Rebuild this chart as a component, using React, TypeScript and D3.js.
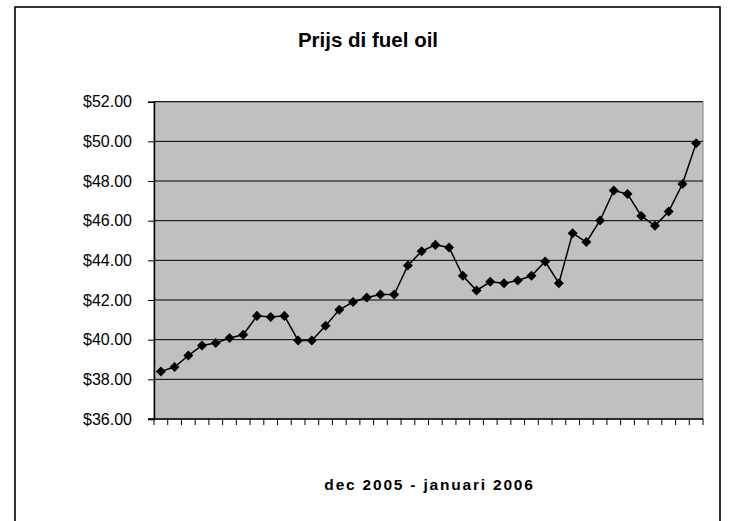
import React, { useRef, useEffect } from 'react';
import * as d3 from 'd3';

// fuel oil price per day, dec 2005 - jan 2006
const prices: number[] = [
  38.4, 38.62, 39.2, 39.71, 39.83, 40.08, 40.25, 41.2, 41.14, 41.2,
  39.96, 39.96, 40.7, 41.51, 41.9, 42.13, 42.28, 42.28, 43.74, 44.46,
  44.78, 44.65, 43.22, 42.48, 42.92, 42.85, 42.98, 43.22, 43.94, 42.85,
  45.37, 44.92, 46.01, 47.52, 47.35, 46.24, 45.74, 46.46, 47.85, 49.9
];
const yTicks: number[] = [36, 38, 40, 42, 44, 46, 48, 50, 52];
const title = 'Prijs di fuel oil';
const xTitle = 'dec 2005 - januari 2006';

const App: React.FC = () => {
  const svgRef = useRef<SVGSVGElement>(null);

  useEffect(() => {
    if (!svgRef.current) return;
    const width = 730,
      height = 521;
    const plot = { left: 154, right: 703, top: 101.7, bottom: 419 };
    const font = 'Liberation Sans, Arial, sans-serif';

    const svg = d3.select(svgRef.current);
    svg.selectAll('*').remove();
    svg.attr('width', width).attr('height', height);

    // chart border
    svg
      .append('rect')
      .attr('x', 15)
      .attr('y', 7)
      .attr('width', 705)
      .attr('height', 530)
      .attr('fill', '#fff')
      .attr('stroke', '#000')
      .attr('stroke-width', 1.6);

    const x = d3
      .scaleBand<number>()
      .domain(prices.map((_, i) => i))
      .range([plot.left, plot.right]);
    const y = d3
      .scaleLinear()
      .domain([36, 52])
      .range([plot.bottom, plot.top]);

    // plot area
    svg
      .append('rect')
      .attr('x', plot.left)
      .attr('y', plot.top)
      .attr('width', plot.right - plot.left)
      .attr('height', plot.bottom - plot.top)
      .attr('fill', '#c0c0c0')
      .attr('stroke', '#808080')
      .attr('stroke-width', 1);

    // gridlines
    svg
      .append('g')
      .selectAll('line')
      .data(yTicks.slice(1))
      .enter()
      .append('line')
      .attr('x1', plot.left)
      .attr('x2', plot.right)
      .attr('y1', (d) => y(d))
      .attr('y2', (d) => y(d))
      .attr('stroke', '#000')
      .attr('stroke-width', 1);

    // Y axis
    const yAxis = svg
      .append('g')
      .attr('transform', 'translate(' + plot.left + ',0)')
      .call(
        d3
          .axisLeft(y)
          .tickValues(yTicks)
          .tickSize(6)
          .tickPadding(16)
          .tickFormat((d) => '$' + (d as number).toFixed(2))
      );
    yAxis.select('.domain').attr('stroke', '#000').attr('stroke-width', 1.5);
    yAxis
      .selectAll('text')
      .attr('font-family', font)
      .attr('font-size', 16)
      .attr('fill', '#000');

    // X axis, ticks between categories
    const bounds = d3.range(prices.length + 1).map((i) => plot.left + i * x.step());
    const xAxis = svg.append('g');
    xAxis
      .append('line')
      .attr('x1', plot.left - 6)
      .attr('x2', plot.right)
      .attr('y1', plot.bottom)
      .attr('y2', plot.bottom)
      .attr('stroke', '#000')
      .attr('stroke-width', 1.5);
    xAxis
      .selectAll('.tick')
      .data(bounds)
      .enter()
      .append('line')
      .attr('x1', (d) => d)
      .attr('x2', (d) => d)
      .attr('y1', plot.bottom)
      .attr('y2', plot.bottom + 6)
      .attr('stroke', '#000')
      .attr('stroke-width', 1);

    // line
    const line = d3
      .line<number>()
      .x((_, i) => (x(i) as number) + x.bandwidth() / 2)
      .y((d) => y(d));
    svg
      .append('path')
      .datum(prices)
      .attr('d', line)
      .attr('fill', 'none')
      .attr('stroke', '#000')
      .attr('stroke-width', 1.5);

    // diamond markers
    const diamond = d3.symbol().type(d3.symbolDiamond2).size(64);
    svg
      .append('g')
      .selectAll('path')
      .data(prices)
      .enter()
      .append('path')
      .attr('d', diamond)
      .attr(
        'transform',
        (d, i) =>
          'translate(' + ((x(i) as number) + x.bandwidth() / 2) + ',' + y(d) + ')'
      )
      .attr('fill', '#000');

    // titles
    svg
      .append('text')
      .attr('x', 368)
      .attr('y', 47)
      .attr('text-anchor', 'middle')
      .attr('font-family', font)
      .attr('font-size', 20.5)
      .attr('font-weight', 'bold')
      .text(title);
    svg
      .append('text')
      .attr('x', (plot.left + plot.right) / 2 + 1)
      .attr('y', 490)
      .attr('text-anchor', 'middle')
      .attr('font-family', font)
      .attr('font-size', 15.5)
      .attr('font-weight', 'bold')
      .attr('letter-spacing', 1.8)
      .text(xTitle);
  }, []);

  return (
    <svg
      ref={svgRef}
      style={{ position: 'absolute', left: 0, top: 0, display: 'block' }}
    />
  );
};

export default App;
